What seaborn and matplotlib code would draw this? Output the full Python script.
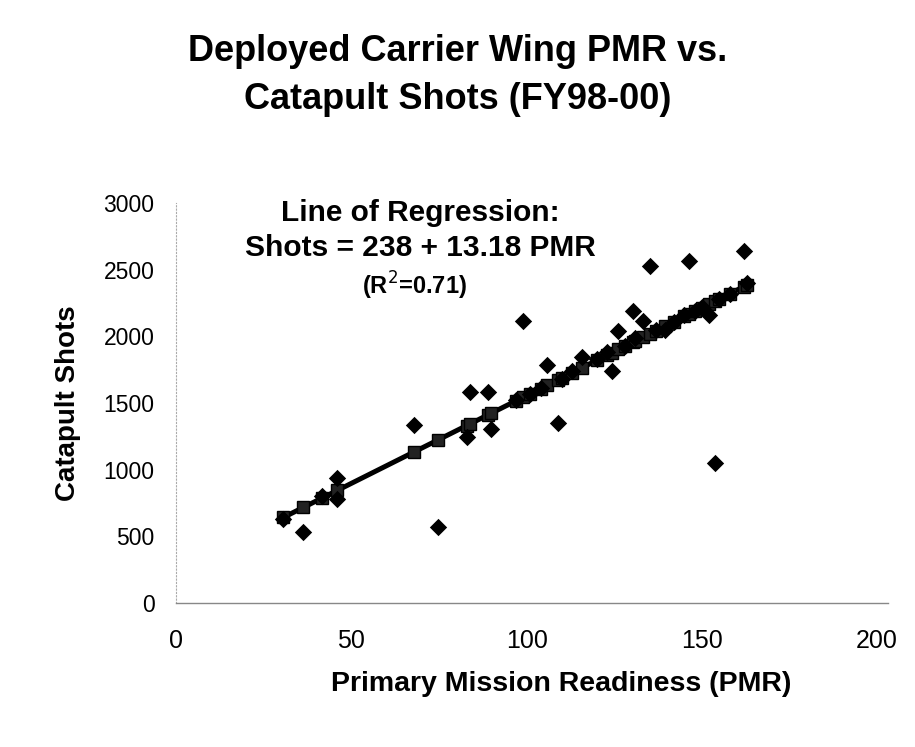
import matplotlib
matplotlib.use("Agg")
import matplotlib.pyplot as plt
import seaborn as sns
import numpy as np
import pandas as pd

# ---- data ----
pmr = [30.6, 36.3, 41.6, 46.0, 46.0, 68.0, 74.8, 82.9, 83.9, 89.1,
       89.8, 97.0, 99.1, 101.0, 104.0, 105.8, 108.9, 110.0, 113.0, 115.8,
       120.0, 123.0, 124.3, 126.2, 128.0, 130.5, 131.0, 133.3, 135.2, 137.0,
       139.5, 142.0, 145.0, 146.2, 148.0, 150.0, 151.9, 153.8, 155.0, 158.0,
       161.9, 163.0]
shots = [630, 529, 800, 935, 778, 1332, 571, 1244, 1584, 1584,
         1302, 1520, 2112, 1570, 1610, 1788, 1352, 1680, 1740, 1845,
         1830, 1880, 1743, 2037, 1930, 2192, 1990, 2112, 2529, 2050,
         2045, 2110, 2160, 2566, 2190, 2220, 2162, 1053, 2280, 2320,
         2641, 2400]
intercept = 238.0
slope = 13.18
r2 = 0.71

title = "Deployed Carrier Wing PMR vs.\nCatapult Shots (FY98-00)"
xlabel = "Primary Mission Readiness (PMR)"
ylabel = "Catapult Shots"
xticks = [0, 50, 100, 150, 200]
yticks = [0, 500, 1000, 1500, 2000, 2500, 3000]

df = pd.DataFrame({"PMR": pmr, "Shots": shots})
df["Predicted"] = intercept + slope * df["PMR"]
df = df.sort_values("PMR")

# ---- figure ----
sns.set_theme(style="white")
plt.rcParams["font.family"] = ["Liberation Sans", "DejaVu Sans"]
plt.rcParams["text.color"] = "black"
plt.rcParams["axes.labelcolor"] = "black"
plt.rcParams["xtick.color"] = "black"
plt.rcParams["ytick.color"] = "black"

fig = plt.figure(figsize=(9.15, 7.47), dpi=100)
ax = fig.add_axes([176/915, 1-603/747, (888-176)/915, (603-203)/747])

sns.lineplot(data=df, x="PMR", y="Predicted", ax=ax, color="black",
             linewidth=3.6, marker="s", markersize=8,
             markerfacecolor="#222222", markeredgecolor="black",
             markeredgewidth=1.0, zorder=3)
sns.scatterplot(data=df, x="PMR", y="Shots", ax=ax, marker="D", s=78,
                color="black", edgecolor="black", linewidth=0, zorder=4)

ax.set_xlim(0, 203.1)
ax.set_ylim(0, 3000)
ax.set_xticks(xticks)
ax.set_yticks(yticks)
ax.tick_params(axis="x", length=0, labelsize=18, pad=19)
ax.tick_params(axis="y", length=7, width=0.8, color="#777777",
               direction="inout", labelsize=16.5, pad=12)
for lbl in ax.get_xticklabels() + ax.get_yticklabels():
    lbl.set_color("black")

for s in ["top", "right"]:
    ax.spines[s].set_visible(False)
ax.spines["bottom"].set_color("#888888")
ax.spines["bottom"].set_linewidth(1.0)
ax.spines["left"].set_color("#aaaaaa")
ax.spines["left"].set_linewidth(0.8)
ax.spines["left"].set_linestyle((0, (1, 2)))

ax.set_xlabel(xlabel, fontsize=20.5, fontweight="bold")
ax.xaxis.set_label_coords((561 - 176) / 712, -(671 - 603) / 400)
ax.set_ylabel(ylabel, fontsize=20, fontweight="bold", labelpad=16)

fig.text(0.500, 0.899, title, ha="center", va="center", fontsize=26,
         fontweight="bold", linespacing=1.5)

cx = (420 - 176) / 712
ax.text(cx, 1 - (213 - 203) / 400, "Line of Regression:", transform=ax.transAxes,
        ha="center", va="center", fontsize=21.5, fontweight="bold")
ax.text(cx, 1 - (248 - 203) / 400, f"Shots = {intercept:.0f} + {slope:.2f} PMR",
        transform=ax.transAxes, ha="center", va="center", fontsize=21.5,
        fontweight="bold")
ax.text(cx - 0.008, 1 - (286 - 203) / 400, f"(R$^{{2}}$={r2:.2f})",
        transform=ax.transAxes, ha="center", va="center", fontsize=17,
        fontweight="bold")

fig.savefig("out.png", dpi=100, facecolor="white")
